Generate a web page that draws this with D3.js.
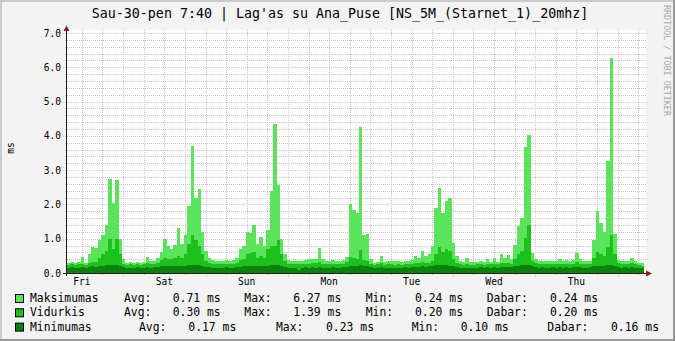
<!DOCTYPE html>
<html>
<head>
<meta charset="utf-8">
<script src="https://cdnjs.cloudflare.com/ajax/libs/d3/7.8.5/d3.min.js"></script>
<style>
  body { margin: 0; background: #f3f3f3; }
  svg { display: block; }
  text { font-family: "DejaVu Sans Mono", monospace; fill: #000; }
</style>
</head>
<body>
<div id="chart"></div>
<script>
// one value per hour, starting Fri 7:40
const days = ["Fri", "Sat", "Sun", "Mon", "Tue", "Wed", "Thu"];
const yTicks = [0, 1, 2, 3, 4, 5, 6, 7];

const maxValues = [
  0.30,0.32,0.30,0.33,0.47,0.30,0.55,0.75,0.72,0.95,1.12,1.40,2.75,2.05,2.70,1.00,0.40,
  0.30,0.32,0.30,0.31,0.30,0.33,0.47,0.34,0.36,0.44,0.62,0.98,0.80,0.70,0.82,1.30,0.85,1.12,1.95,3.70,2.20,2.45,1.20,0.65,0.45,0.38,
  0.36,0.36,0.34,0.38,0.35,0.38,0.45,0.70,0.78,1.20,1.18,1.40,0.85,1.05,0.80,1.25,2.38,4.35,2.58,1.00,0.55,0.38,
  0.35,0.36,0.34,0.36,0.38,0.40,0.42,0.42,0.73,0.40,0.36,0.35,0.37,0.35,0.36,0.38,0.48,2.00,1.83,1.76,4.26,1.12,1.15,0.40,
  0.30,0.31,0.50,0.32,0.36,0.36,0.35,0.36,0.33,0.34,0.36,0.38,0.49,0.45,0.64,0.50,0.56,0.78,1.89,2.48,1.75,2.09,2.19,0.88,0.50,
  0.35,0.32,0.45,0.32,0.31,0.33,0.36,0.32,0.40,0.33,0.44,0.33,0.54,0.45,0.52,0.42,0.83,1.36,1.60,3.67,4.03,0.59,0.40,
  0.34,0.35,0.36,0.34,0.35,0.36,0.40,0.35,0.37,0.36,0.38,0.59,0.40,0.35,0.36,0.34,0.95,1.82,1.46,1.20,3.26,6.27,1.15,0.38,
  0.34,0.35,0.36,0.44,0.35,0.30,0.29
];

const avgValues = [
  0.24,0.25,0.24,0.25,0.27,0.24,
  0.30,0.33,0.31,0.45,0.55,0.65,1.00,0.70,1.00,0.55,0.27,
  0.24,0.25,0.24,0.25,0.24,0.25,0.28,0.26,0.27,
  0.30,0.38,0.45,0.42,0.40,0.45,0.50,0.45,0.55,0.85,1.10,0.95,0.80,0.55,0.35,0.30,0.27,
  0.25,0.26,0.25,0.26,0.25,0.26,
  0.28,0.38,0.42,0.55,0.58,0.60,0.45,0.50,0.45,0.70,0.78,0.80,0.97,0.55,0.35,0.27,
  0.25,0.26,0.25,0.26,0.27,0.27,0.28,0.28,0.32,0.27,0.26,0.25,0.26,0.25,0.26,0.27,
  0.32,0.47,0.45,0.40,0.67,0.38,0.36,0.27,
  0.24,0.25,0.28,0.24,0.25,0.25,0.24,0.25,0.24,0.25,0.25,0.26,0.29,0.28,0.31,0.29,0.30,
  0.35,0.55,0.75,0.60,0.70,0.65,0.40,0.28,
  0.25,0.24,0.27,0.24,0.24,0.25,0.25,0.24,0.26,0.25,0.27,0.25,0.30,0.28,0.29,0.27,
  0.40,0.55,0.65,1.02,1.39,0.35,0.28,
  0.25,0.26,0.26,0.25,0.26,0.26,0.27,0.25,0.26,0.26,0.27,0.33,0.27,0.25,0.26,0.25,
  0.45,0.60,0.55,0.50,0.75,1.10,0.55,0.28,
  0.26,0.25,0.26,0.28,0.25,0.24,0.20
];

const minValues = [
  0.16,0.17,0.16,0.15,0.17,0.16,0.18,0.19,0.18,0.20,0.21,0.22,0.23,0.22,0.23,0.20,0.17,
  0.16,0.15,0.16,0.17,0.16,0.15,0.17,0.16,0.17,0.18,0.19,0.20,0.19,0.19,0.20,0.21,0.20,0.20,0.22,0.23,0.22,0.22,0.20,0.18,0.17,0.16,
  0.16,0.15,0.16,0.17,0.15,0.16,0.17,0.18,0.19,0.20,0.21,0.21,0.20,0.20,0.19,0.21,0.22,0.23,0.22,0.20,0.18,0.16,
  0.16,0.15,0.10,0.16,0.17,0.16,0.17,0.16,0.18,0.16,0.15,0.16,0.17,0.16,0.15,0.17,0.18,0.21,0.20,0.20,0.22,0.20,0.19,0.17,
  0.15,0.16,0.17,0.16,0.15,0.16,0.16,0.15,0.16,0.17,0.16,0.17,0.18,0.18,0.19,0.18,0.19,0.20,0.22,0.23,0.22,0.22,0.21,0.19,0.17,
  0.16,0.15,0.16,0.16,0.15,0.16,0.17,0.16,0.17,0.16,0.17,0.16,0.18,0.17,0.18,0.17,0.19,0.21,0.22,0.23,0.23,0.19,0.17,
  0.16,0.17,0.16,0.16,0.17,0.16,0.17,0.16,0.17,0.16,0.17,0.18,0.17,0.16,0.16,0.17,0.19,0.21,0.21,0.20,0.22,0.23,0.20,0.17,
  0.16,0.17,0.16,0.17,0.16,0.16,0.16
];

const seriesNames = ["Maksimumas", "Vidurkis", "Minimumas"];
const seriesColors = ["#5be35b", "#1cc11c", "#0e800e"];
const legendAvg = ["0.71 ms", "0.30 ms", "0.17 ms"];
const legendMax = ["6.27 ms", "1.39 ms", "0.23 ms"];
const legendMin = ["0.24 ms", "0.20 ms", "0.10 ms"];
const legendNow = ["0.24 ms", "0.20 ms", "0.16 ms"];

const width = 675;
const height = 341;
const hours = maxValues.length;
const firstMidnight = 16 + 20 / 60;
const minorColor = "#c4c4c4";
const majorColor = "#eac2c2";

const svg = d3.select("#chart")
  .append("svg")
  .attr("width", width)
  .attr("height", height);

// frame
svg.append("rect").attr("width", width).attr("height", height).attr("fill", "#f3f3f3");
svg.append("rect").attr("x", 0).attr("y", 0).attr("width", width).attr("height", 2).attr("fill", "#cbcbcb");
svg.append("rect").attr("x", 0).attr("y", 0).attr("width", 2).attr("height", height).attr("fill", "#cbcbcb");
svg.append("rect").attr("x", 0).attr("y", height - 2).attr("width", width).attr("height", 2).attr("fill", "#999");
svg.append("rect").attr("x", width - 2).attr("y", 0).attr("width", 2).attr("height", height).attr("fill", "#999");

const x = d3.scaleLinear().domain([0, hours]).range([67, 644]);
const y = d3.scaleLinear().domain([0, 7]).range([273, 33]);

svg.append("rect")
  .attr("x", 67).attr("y", 30)
  .attr("width", 579).attr("height", 243)
  .attr("fill", "#fff");

const grid = svg.append("g")
  .attr("shape-rendering", "crispEdges")
  .style("stroke-dasharray", "1,1");

// grid
const minorY = d3.range(0, 7.01, 0.2).filter(v => Math.abs(v - Math.round(v)) > 0.01);
grid.selectAll(".minor-y")
  .data(minorY)
  .enter()
  .append("line")
  .attr("x1", 65).attr("x2", 647)
  .attr("y1", d => Math.round(y(d)) + 0.5)
  .attr("y2", d => Math.round(y(d)) + 0.5)
  .style("stroke", minorColor);

const sixHours = d3.range(firstMidnight - 12, hours, 6).filter(h => h > 0);
const isMidnight = h => Math.abs(((h - firstMidnight) % 24 + 24) % 24) < 0.1;
const minorX = sixHours.filter(h => !isMidnight(h));
const majorX = sixHours.filter(isMidnight);

grid.selectAll(".minor-x")
  .data(minorX)
  .enter()
  .append("line")
  .attr("x1", d => Math.round(x(d)) + 0.5)
  .attr("x2", d => Math.round(x(d)) + 0.5)
  .attr("y1", 30).attr("y2", 275)
  .style("stroke", minorColor);

grid.selectAll(".major-x")
  .data(majorX)
  .enter()
  .append("line")
  .attr("x1", d => Math.round(x(d)) + 0.5)
  .attr("x2", d => Math.round(x(d)) + 0.5)
  .attr("y1", 30).attr("y2", 277)
  .style("stroke", majorColor);

grid.selectAll(".major-y")
  .data(yTicks)
  .enter()
  .append("line")
  .attr("x1", 63).attr("x2", 648)
  .attr("y1", d => Math.round(y(d)) + 0.5)
  .attr("y2", d => Math.round(y(d)) + 0.5)
  .style("stroke", majorColor);

// data, drawn max -> avg -> min
const area = d3.area()
  .x((d, i) => x(i))
  .y0(y(0))
  .y1(d => y(d))
  .curve(d3.curveStepAfter);

[maxValues, avgValues, minValues].forEach((values, k) => {
  svg.append("path")
    .datum(values.concat([values[values.length - 1]]))
    .attr("d", area)
    .attr("fill", seriesColors[k])
    .attr("shape-rendering", "crispEdges");
});

// axes
svg.append("line")
  .attr("x1", 63).attr("x2", 647)
  .attr("y1", 273.5).attr("y2", 273.5)
  .style("stroke", "#202020");
svg.append("line")
  .attr("x1", 66.5).attr("x2", 66.5)
  .attr("y1", 276).attr("y2", 29)
  .style("stroke", "#202020");
svg.append("path")
  .attr("d", "M646,270.5L652,273.5L646,276.5Z")
  .attr("fill", "#802020");
svg.append("path")
  .attr("d", "M63.5,31L66.5,25.5L69.5,31Z")
  .attr("fill", "#802020");

svg.selectAll(".y-label")
  .data(yTicks)
  .enter()
  .append("text")
  .attr("x", 61)
  .attr("y", d => y(d) + 3.6)
  .attr("text-anchor", "end")
  .style("font-size", "9.6px")
  .text(d => d.toFixed(1));

svg.selectAll(".x-label")
  .data(days)
  .enter()
  .append("text")
  .attr("x", (d, i) => x(firstMidnight - 12 + 24 * i))
  .attr("y", 285)
  .attr("text-anchor", "middle")
  .style("font-size", "9.6px")
  .text(d => d);

// titles
svg.append("text")
  .attr("x", 340)
  .attr("y", 18)
  .attr("text-anchor", "middle")
  .style("font-size", "13.3px")
  .text("Sau-30-pen 7:40 | Lag'as su Ana_Puse [NS_5M_(Starnet_1)_20mhz]");

svg.append("text")
  .attr("transform", "translate(13.5,148) rotate(-90)")
  .attr("text-anchor", "middle")
  .style("font-size", "9.6px")
  .text("ms");

svg.append("text")
  .attr("transform", "translate(663.5,5) rotate(90)")
  .style("font-size", "8.4px")
  .style("fill", "#a8a8a8")
  .text("RRDTOOL / TOBI OETIKER");

// legend
const rowY = [302, 316.3, 330.6];
const cols = [
  [124, 172.7, 244.3, 293.3, 365.7, 415, 486.7, 550],
  [124, 172.7, 244.3, 293.3, 365.7, 415, 486.7, 550],
  [139, 188.3, 276, 326, 411.7, 460.7, 547.3, 611]
];

seriesNames.forEach((name, k) => {
  const g = svg.append("g").style("font-size", "11.4px");
  g.append("rect")
    .attr("x", 15.5).attr("y", rowY[k] - 7.5)
    .attr("width", 8).attr("height", 8)
    .attr("fill", seriesColors[k])
    .style("stroke", "#000");
  const parts = [name, "Avg:", legendAvg[k], "Max:", legendMax[k], "Min:", legendMin[k], "Dabar:", legendNow[k]];
  const xs = [30].concat(cols[k]);
  parts.forEach((p, j) => {
    g.append("text").attr("x", xs[j]).attr("y", rowY[k]).text(p);
  });
});
</script>
</body>
</html>
